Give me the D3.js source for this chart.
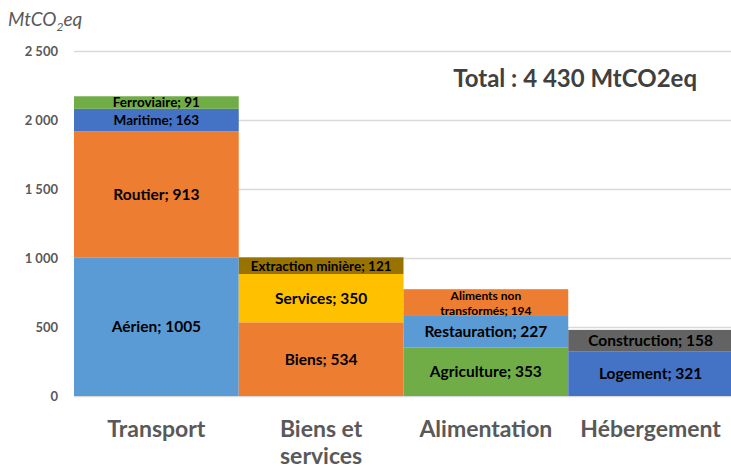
<!DOCTYPE html>
<html>
<head>
<meta charset="utf-8">
<script src="https://cdn.jsdelivr.net/npm/d3@7"></script>
<style>
  body { margin: 0; background: #fff; }
  svg text { font-family: Lato, "Open Sans", sans-serif; }
</style>
</head>
<body>
<div id="chart"></div>
<script>
var categories = ["Transport", "Biens et services", "Alimentation", "Hébergement"];

var transportNames = ["Aérien", "Routier", "Maritime", "Ferroviaire"];
var transportValues = [1005, 913, 163, 91];
var biensNames = ["Biens", "Services", "Extraction minière"];
var biensValues = [534, 350, 121];
var alimNames = ["Agriculture", "Restauration", "Aliments non transformés"];
var alimValues = [353, 227, 194];
var hebergNames = ["Logement", "Construction"];
var hebergValues = [321, 158];

var yTicks = [0, 500, 1000, 1500, 2000, 2500];
var totalLabel = "Total : 4 430 MtCO2eq";

var colors = {
  "Aérien": "#5B9BD5", "Routier": "#ED7D31", "Maritime": "#4472C4", "Ferroviaire": "#70AD47",
  "Biens": "#ED7D31", "Services": "#FFC000", "Extraction minière": "#997300",
  "Agriculture": "#70AD47", "Restauration": "#5B9BD5", "Aliments non transformés": "#ED7D31",
  "Logement": "#4472C4", "Construction": "#636363"
};
var smallLabels = ["Maritime", "Ferroviaire", "Extraction minière"];

var width = 731, height = 467;
var svg = d3.select("#chart").append("svg")
  .attr("width", width).attr("height", height);

var x = d3.scaleBand().domain(categories).range([74, 733]).padding(0);
var y = d3.scaleLinear().domain([0, 2500]).range([396, 51]);

// gridlines + tick labels
var yAxis = svg.append("g").attr("transform", "translate(74,0)")
  .call(d3.axisLeft(y).tickValues(yTicks).tickSize(-(731 - 74))
    .tickFormat(function(d) { return d3.format(",")(d).replace(",", " "); }));
yAxis.select(".domain").remove();
yAxis.selectAll("line").attr("stroke", "#D9D9D9").attr("stroke-width", 1.5);
yAxis.selectAll("text").attr("x", -16).attr("dy", "0.35em")
  .attr("fill", "#595959").style("font-size", "13px").style("font-weight", "bold");

// build stacked segments
var groups = [
  [transportNames, transportValues],
  [biensNames, biensValues],
  [alimNames, alimValues],
  [hebergNames, hebergValues]
];
var segs = [];
groups.forEach(function(g, i) {
  var base = 0;
  g[0].forEach(function(name, j) {
    segs.push({cat: categories[i], name: name, value: g[1][j], y0: base, y1: base + g[1][j]});
    base += g[1][j];
  });
});

svg.selectAll("rect.seg").data(segs).enter().append("rect")
  .attr("class", "seg")
  .attr("x", function(d) { return x(d.cat); })
  .attr("width", x.bandwidth())
  .attr("y", function(d) { return y(d.y1); })
  .attr("height", function(d) { return y(d.y0) - y(d.y1); })
  .attr("fill", function(d) { return colors[d.name]; });

var labels = svg.selectAll("text.seg").data(segs).enter().append("text")
  .attr("class", "seg")
  .attr("text-anchor", "middle")
  .attr("fill", "#000")
  .style("font-weight", "bold")
  .style("font-size", function(d) {
    if (d.name === "Aliments non transformés") return "12px";
    return smallLabels.indexOf(d.name) >= 0 ? "13.5px" : "15.5px";
  })
  .attr("x", function(d) { return x(d.cat) + x.bandwidth() / 2; })
  .attr("y", function(d) { return (y(d.y0) + y(d.y1)) / 2; });

labels.each(function(d) {
  var t = d3.select(this);
  if (d.name === "Aliments non transformés") {
    t.append("tspan").attr("x", t.attr("x")).attr("dy", "-0.25em").text("Aliments non");
    t.append("tspan").attr("x", t.attr("x")).attr("dy", "1.3em").text("transformés; " + d.value);
  } else {
    t.attr("dy", "0.36em").text(d.name + "; " + d.value);
  }
});

// category labels
svg.selectAll("text.cat").data(categories).enter().append("text")
  .attr("class", "cat")
  .attr("text-anchor", "middle")
  .attr("fill", "#595959")
  .style("font-weight", "bold")
  .style("font-size", "23px")
  .attr("x", function(d) { return x(d) + x.bandwidth() / 2; })
  .attr("y", 437)
  .each(function(d) {
    var t = d3.select(this);
    if (d === "Biens et services") {
      t.append("tspan").attr("x", t.attr("x")).text("Biens et");
      t.append("tspan").attr("x", t.attr("x")).attr("dy", 27).text("services");
    } else {
      t.text(d);
    }
  });

// unit label
var unit = svg.append("text").attr("x", 8).attr("y", 26)
  .attr("fill", "#595959").style("font-style", "italic").style("font-size", "19px");
unit.append("tspan").text("MtCO");
unit.append("tspan").attr("dy", 5).style("font-size", "12px").text("2");
unit.append("tspan").attr("dy", -5).text("eq");

// total
svg.append("text").attr("x", 697).attr("y", 87).attr("text-anchor", "end")
  .attr("fill", "#404040").style("font-weight", "bold").style("font-size", "24px")
  .text(totalLabel);
</script>
</body>
</html>
